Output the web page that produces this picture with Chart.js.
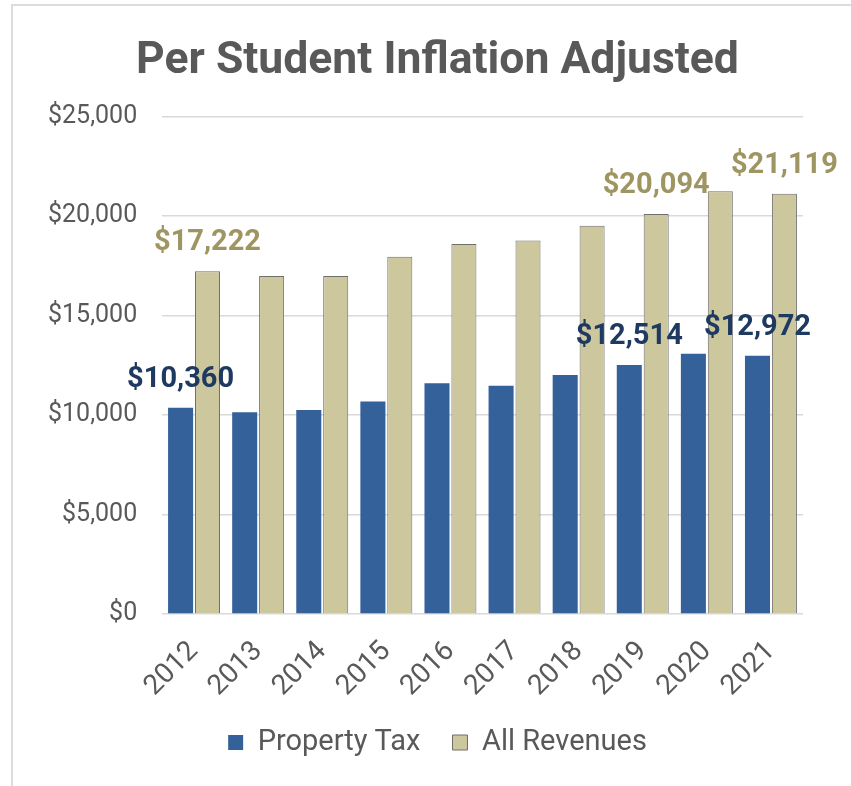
<!DOCTYPE html>
<html>
<head>
<meta charset="utf-8">
<title>Per Student Inflation Adjusted</title>
<script src="https://cdn.jsdelivr.net/npm/chart.js@4/dist/chart.umd.min.js"></script>
<style>
  html, body { margin: 0; padding: 0; background: #fff; }
  #frame {
    position: absolute; left: 11px; top: 4px;
    width: 838px; height: 780px;
    border-top: 2px solid #dcdcdc; border-left: 2px solid #dcdcdc;
  }
  #chart { display: block; }
</style>
</head>
<body>
<div id="frame"><canvas id="chart" width="838" height="780"></canvas></div>
<script>
// per-student revenue, inflation adjusted
const years = ['2012','2013','2014','2015','2016','2017','2018','2019','2020','2021'];
const propertyTax = [10360, 10130, 10250, 10680, 11590, 11470, 12010, 12514, 13080, 12972];
const allRevenues = [17222, 16980, 16980, 17950, 18590, 18760, 19500, 20094, 21240, 21119];
const labelledYears = [0, 7, 9];
const yTicks = [0, 5000, 10000, 15000, 20000, 25000];

const money = v => '$' + v.toLocaleString('en-US');

// draws the dollar figures above the picked bars
const valueLabels = {
  id: 'valueLabels',
  afterDatasetsDraw(chart) {
    const ctx = chart.ctx;
    ctx.save();
    ctx.font = 'bold 29px Roboto';
    ctx.textAlign = 'center';
    ctx.textBaseline = 'alphabetic';
    chart.data.datasets.forEach((ds, di) => {
      const meta = chart.getDatasetMeta(di);
      ctx.fillStyle = ds.labelColor;
      labelledYears.forEach(i => {
        const bar = meta.data[i];
        ctx.fillText(money(ds.data[i]), bar.x, bar.y - 21);
      });
    });
    ctx.restore();
  }
};

Chart.defaults.font.family = 'Roboto';
Chart.defaults.color = '#595959';

new Chart(document.getElementById('chart').getContext('2d'), {
  type: 'bar',
  data: {
    labels: years,
    datasets: [{
      label: 'Property Tax',
      data: propertyTax,
      backgroundColor: '#35619a',
      borderWidth: 0,
      labelColor: '#1f3a60',
      categoryPercentage: 0.84,
      barPercentage: 0.93,
    }, {
      label: 'All Revenues',
      data: allRevenues,
      backgroundColor: '#cdc79e',
      borderColor: '#6e6e6e',
      borderWidth: 1,
      labelColor: '#9f9563',
      categoryPercentage: 0.84,
      barPercentage: 0.93,
    }]
  },
  options: {
    responsive: false,
    animation: false,
    layout: { padding: { left: 59, right: 48, top: 20, bottom: 19 } },
    plugins: {
      title: {
        display: true,
        text: 'Per Student Inflation Adjusted',
        font: { size: 44.5, weight: 'bold' },
        color: '#595959',
        padding: { top: 9, bottom: 28 }
      },
      legend: {
        position: 'bottom',
        labels: { font: { size: 29 }, color: '#595959', boxWidth: 15, boxHeight: 15, padding: 32 }
      },
      tooltip: { enabled: false }
    },
    scales: {
      y: {
        min: 0, max: 25000,
        afterBuildTicks: axis => { axis.ticks = yTicks.map(v => ({ value: v })); },
        afterFit: axis => { axis.width = 90; },
        grid: { color: '#d9d9d9', lineWidth: 1.5, drawTicks: false },
        border: { display: false },
        // mirrored so the labels may sit left of the narrow axis box
        ticks: {
          font: { size: 25 }, color: '#595959', mirror: true, crossAlign: 'far',
          padding: -114, callback: v => money(v)
        }
      },
      x: {
        afterFit: axis => { axis.height = 82; },
        grid: { display: false, drawTicks: false },
        border: { display: false },
        ticks: { font: { size: 28 }, color: '#595959', minRotation: 45, maxRotation: 45, padding: 21 }
      }
    }
  },
  plugins: [valueLabels]
});
</script>
</body>
</html>
